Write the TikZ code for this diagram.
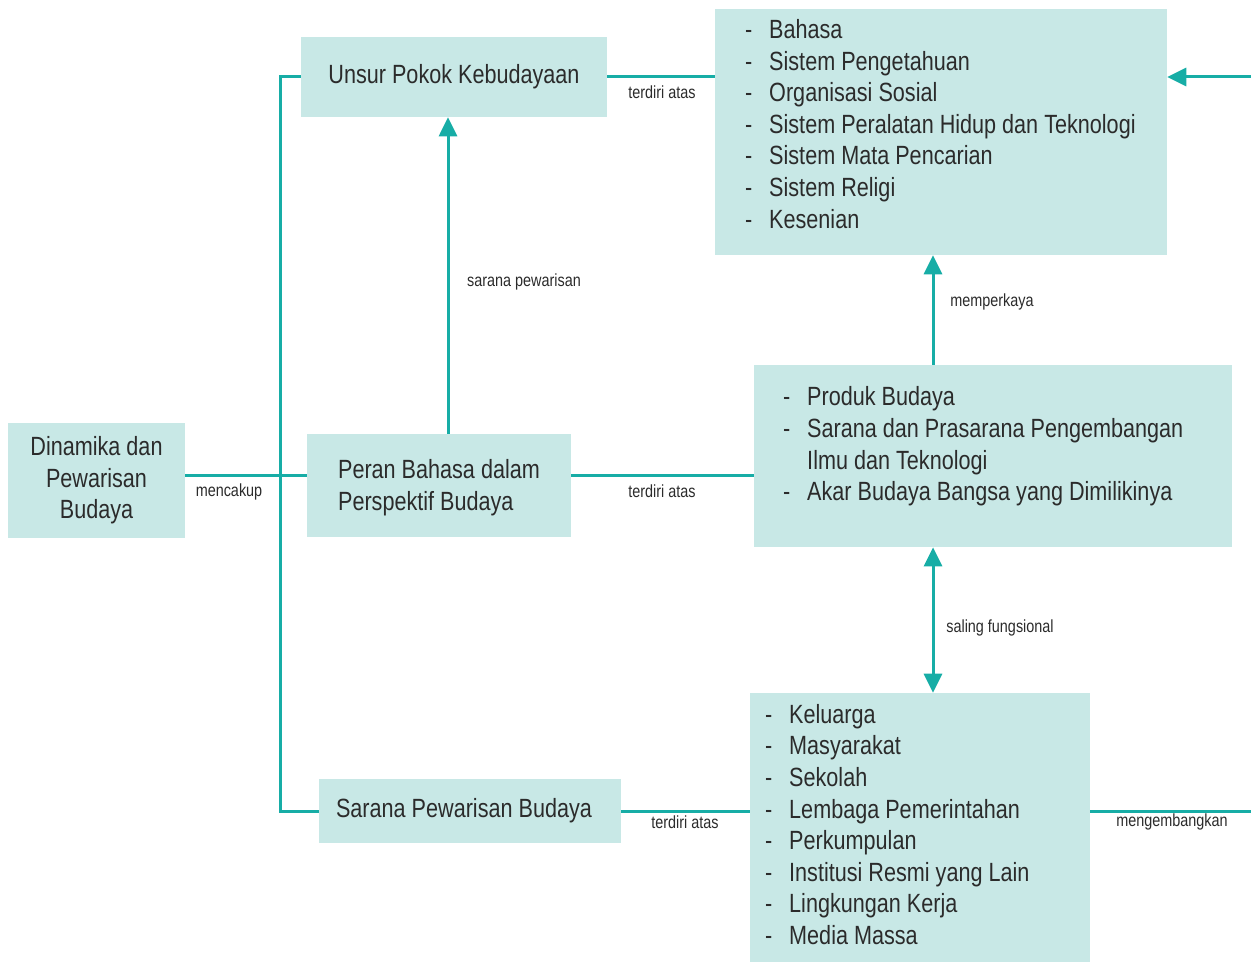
\documentclass[tikz,border=0pt]{standalone}
\usepackage{fontspec}
\setmainfont{Liberation Sans}[FakeStretch=0.82]
\usetikzlibrary{arrows.meta}
\definecolor{boxfill}{HTML}{C8E8E6}
\definecolor{linkcol}{HTML}{17ADA6}
\definecolor{txtcol}{HTML}{2B2B2B}
\tikzset{
  box/.style={fill=boxfill, draw=none, inner sep=0pt, text=txtcol,
    font=\fontsize{15}{18}\selectfont},
  lbl/.style={text=txtcol, inner sep=0pt, font=\fontsize{10}{12}\selectfont},
  link/.style={draw=linkcol, line width=0.6mm},
  arr/.style={link, -{Triangle[width=3.6mm,length=3.8mm]}},
  dblarr/.style={link, {Triangle[width=3.6mm,length=3.8mm]}-{Triangle[width=3.6mm,length=3.8mm]}}
}
% dash list: #1 = width of the text area, #2 = lift, #3 = rows
\newcommand{\dlist}[3]{\raisebox{#2}[\height][\depth]{\makebox[#1][l]{%
  \begin{tabular}{@{}l@{\hspace{3.4mm}}l@{}}#3\end{tabular}}}}

\begin{document}
\begin{tikzpicture}[x=0.02cm, y=-0.02cm]
  \useasboundingbox (0,0) rectangle (1251,962);

  % boxes
  \node[box, minimum width=35.4mm, minimum height=23mm, align=center] (dinamika) at (96.5,480.5)
    {Dinamika dan\\Pewarisan\\Budaya};
  \node[box, minimum width=61.2mm, minimum height=16mm] (unsur) at (454,77) {Unsur Pokok Kebudayaan};
  \node[box, minimum width=52.8mm, minimum height=20.6mm, align=left] (peran) at (439,485.5)
    {\raisebox{-0.5mm}[\height][\depth]{\begin{tabular}{@{}l@{}}Peran Bahasa dalam\\Perspektif Budaya\end{tabular}}};
  \node[box, minimum width=60.4mm, minimum height=12.8mm] (sarana) at (470,811)
    {\hspace*{-2.4mm}Sarana Pewarisan Budaya};

  \node[box, minimum width=90.4mm, minimum height=49.2mm] (unsurlist) at (941,132) {\dlist{78.4mm}{1mm}{
    - & Bahasa\\
    - & Sistem Pengetahuan\\
    - & Organisasi Sosial\\
    - & Sistem Peralatan Hidup dan Teknologi\\
    - & Sistem Mata Pencarian\\
    - & Sistem Religi\\
    - & Kesenian}};
  \node[box, minimum width=95.6mm, minimum height=36.4mm] (produk) at (993,456) {\dlist{84mm}{1.8mm}{
    - & Produk Budaya\\
    - & Sarana dan Prasarana Pengembangan\\
      & Ilmu dan Teknologi\\
    - & Akar Budaya Bangsa yang Dimilikinya}};
  \node[box, minimum width=68mm, minimum height=53.8mm] (keluarga) at (920,827.5) {\dlist{62mm}{0mm}{
    - & Keluarga\\
    - & Masyarakat\\
    - & Sekolah\\
    - & Lembaga Pemerintahan\\
    - & Perkumpulan\\
    - & Institusi Resmi yang Lain\\
    - & Lingkungan Kerja\\
    - & Media Massa}};

  % helper points
  \coordinate (mid) at (280,476);
  \coordinate (pw) at (448,300);
  \coordinate (mk) at (933,300);
  \coordinate (edge) at (1251,500);

  % connectors
  \draw[link] (dinamika.east |- mid) -- (peran.west |- mid);
  \draw[link] (unsur.west) -- (unsur.west -| mid) -- (sarana.west -| mid) -- (sarana.west);
  \draw[link] (unsur.east) -- (unsur.east -| unsurlist.west);
  \draw[arr] (peran.north -| pw) -- (unsur.south -| pw);
  \draw[link] (peran.east |- mid) -- (produk.west |- mid);
  \draw[arr] (produk.north -| mk) -- (unsurlist.south -| mk);
  \draw[dblarr] (produk.south -| mk) -- (keluarga.north -| mk);
  \draw[link] (sarana.east) -- (sarana.east -| keluarga.west);
  \draw[link] (sarana.east -| keluarga.east) -- (sarana.east -| edge);
  \draw[arr] (unsur.east -| edge) -- (unsur.east -| unsurlist.east);

  % labels
  \node[lbl] (lmencakup) at (229,492) {mencakup};
  \node[lbl] (lterdiri1) at (662,92) {terdiri atas};
  \node[lbl] (lsarana) at (524,282) {sarana pewarisan};
  \node[lbl] (lterdiri2) at (662,491) {terdiri atas};
  \node[lbl] (lmemperkaya) at (992,302) {memperkaya};
  \node[lbl] (lsaling) at (1000,628) {saling fungsional};
  \node[lbl] (lterdiri3) at (685,822) {terdiri atas};
  \node[lbl] (lmengembang) at (1172,822) {mengembangkan};
\end{tikzpicture}
\end{document}
